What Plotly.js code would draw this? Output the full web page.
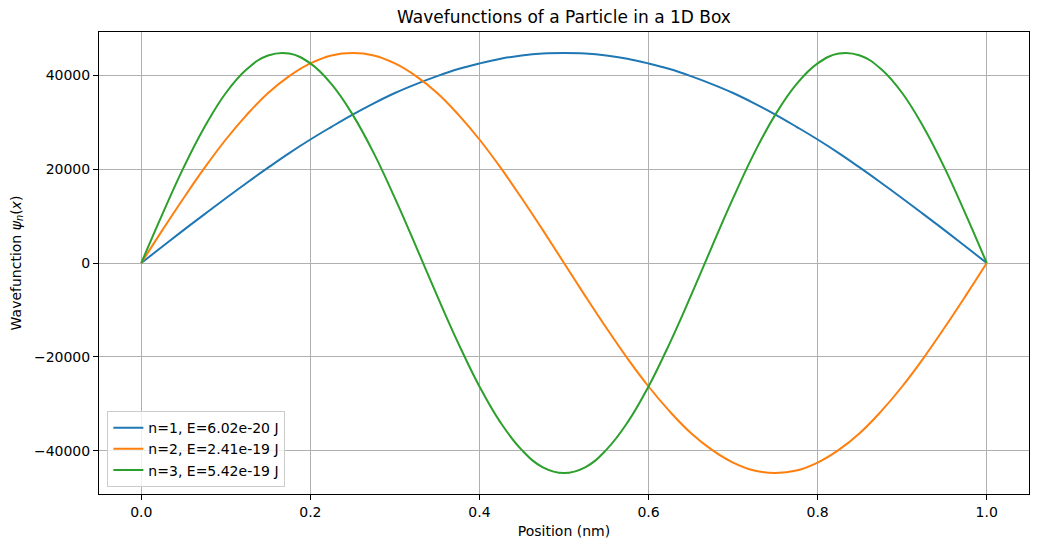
<!DOCTYPE html>
<html>
<head>
<meta charset="utf-8">
<script src="https://cdn.plot.ly/plotly-3.0.1.min.js"></script>
<style>html,body{margin:0;padding:0;background:#fff;}#chart{width:1038px;height:547px;}</style>
</head>
<body>
<div id="chart"></div>
<script>
const positions = [0,0.025,0.05,0.075,0.1,0.125,0.15,0.175,0.2,0.225,0.25,0.275,0.3,0.325,0.35,0.375,0.4,0.425,0.45,0.475,0.5,0.525,0.55,0.575,0.6,0.625,0.65,0.675,0.7,0.725,0.75,0.775,0.8,0.825,0.85,0.875,0.9,0.925,0.95,0.975,1.0];
const psi1 = [0,3500,7000,10400,13800,17100,20300,23400,26300,29000,31600,34000,36200,38100,39800,41300,42500,43500,44200,44600,44700,44600,44200,43500,42500,41300,39800,38100,36200,34000,31600,29000,26300,23400,20300,17100,13800,10400,7000,3500,0];
const psi2 = [0,7000,13800,20300,26300,31600,36200,39800,42500,44200,44700,44200,42500,39800,36200,31600,26300,20300,13800,7000,0,-7000,-13800,-20300,-26300,-31600,-36200,-39800,-42500,-44200,-44700,-44200,-42500,-39800,-36200,-31600,-26300,-20300,-13800,-7000,0];
const psi3 = [0,10400,20300,29000,36200,41300,44200,44600,42500,38100,31600,23400,13800,3500,-7000,-17100,-26300,-34000,-39800,-43500,-44700,-43500,-39800,-34000,-26300,-17100,-7000,3500,13800,23400,31600,38100,42500,44600,44200,41300,36200,29000,20300,10400,0];
const seriesNames = ["n=1, E=6.02e-20 J","n=2, E=2.41e-19 J","n=3, E=5.42e-19 J"];
const seriesColors = ["#1f77b4","#ff7f0e","#2ca02c"];
const xTicks = [0,0.2,0.4,0.6,0.8,1.0];
const yTicks = [-40000,-20000,0,20000,40000];

const allY = [psi1, psi2, psi3];
const traces = allY.map((y, i) => ({
  x: positions, y: y, type: 'scatter', mode: 'lines', name: seriesNames[i],
  line: {color: seriesColors[i], width: 2, shape: 'spline', smoothing: 1.2}
}));

const fam = 'DejaVu Sans, sans-serif';
const axisCommon = {
  showline: true, mirror: true, linecolor: '#000', linewidth: 1,
  ticks: 'outside', ticklen: 5, tickwidth: 1, tickcolor: '#000',
  showgrid: true, gridcolor: '#b0b0b0', gridwidth: 1, zeroline: false,
  tickfont: {family: fam, size: 14, color: '#000'}
};
const layout = {
  width: 1038, height: 547,
  margin: {l: 99, r: 9, t: 32, b: 53},
  paper_bgcolor: '#fff', plot_bgcolor: '#fff',
  font: {family: fam, size: 14, color: '#000'},
  title: {text: 'Wavefunctions of a Particle in a 1D Box', x: 0.5, xref: 'paper', y: 0.968, yanchor: 'middle', font: {family: fam, size: 17, color: '#000'}},
  xaxis: Object.assign({}, axisCommon, {
    range: [-0.05, 1.05], tickvals: xTicks, ticktext: xTicks.map(v => v.toFixed(1)),
    title: {text: 'Position (nm)', standoff: 7, font: {family: fam, size: 14, color: '#000'}}
  }),
  yaxis: Object.assign({}, axisCommon, {
    range: [-49193, 49193], tickvals: yTicks, ticktext: yTicks.map(v => v < 0 ? '\u2212' + Math.abs(v) : String(v)),
    title: {text: 'Wavefunction <i>ψ<sub>n</sub></i>(<i>x</i>)', standoff: 9, font: {family: fam, size: 14, color: '#000'}}
  }),
  showlegend: true,
  legend: {
    x: 0.009, y: 0.015, xanchor: 'left', yanchor: 'bottom',
    bgcolor: 'rgba(255,255,255,0.8)', bordercolor: '#cccccc', borderwidth: 1,
    font: {family: fam, size: 14, color: '#000'}, tracegroupgap: 0, itemwidth: 30
  }
};
Plotly.newPlot('chart', traces, layout, {displayModeBar: false, staticPlot: true});
</script>
</body>
</html>
